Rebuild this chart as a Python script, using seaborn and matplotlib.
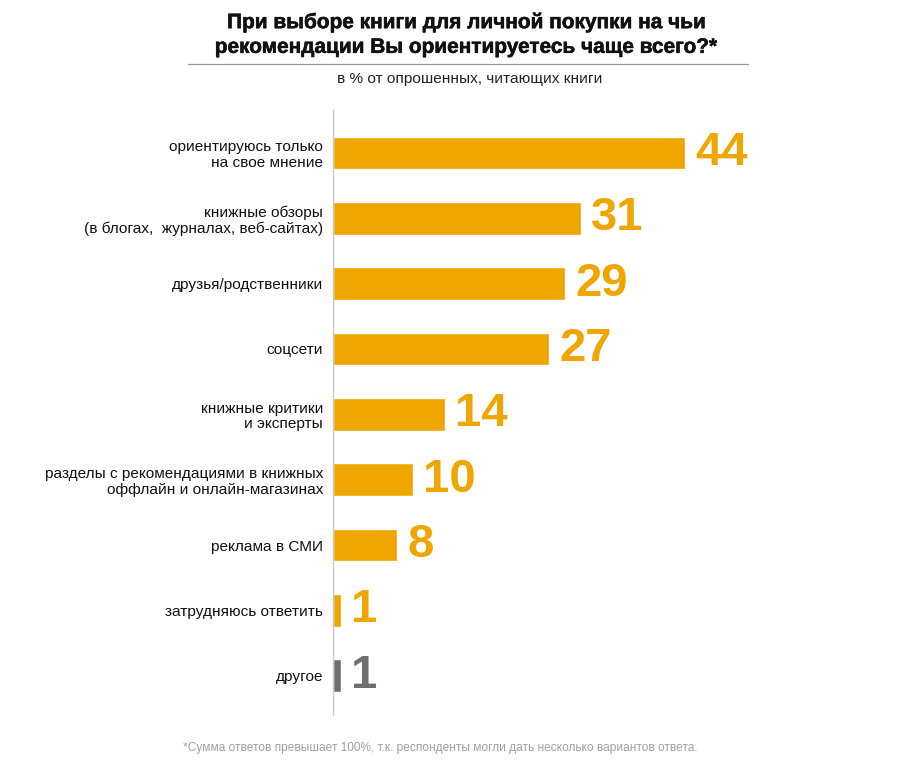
import matplotlib
matplotlib.use("Agg")
import matplotlib.pyplot as plt
import matplotlib.patheffects as pe
import seaborn as sns
import pandas as pd

# --- data ---
categories = [
    "ориентируюсь только\nна свое мнение",
    "книжные обзоры\n(в блогах,  журналах, веб-сайтах)",
    "друзья/родственники",
    "соцсети",
    "книжные критики\nи эксперты",
    "разделы с рекомендациями в книжных\nоффлайн и онлайн-магазинах",
    "реклама в СМИ",
    "затрудняюсь ответить",
    "другое",
]
values = [44, 31, 29, 27, 14, 10, 8, 1, 1]

ORANGE = "#EFA600"
GREY = "#6E6F71"
bar_colors = [ORANGE] * 8 + [GREY]

title = "При выборе книги для личной покупки на чьи\nрекомендации Вы ориентируетесь чаще всего?*"
subtitle = "в % от опрошенных, читающих книги"
footnote = "*Сумма ответов превышает 100%, т.к. респонденты могли дать несколько вариантов ответа."

sns.set_theme(style="white")
plt.rcParams["font.family"] = ["Liberation Sans", "DejaVu Sans"]

df = pd.DataFrame({"cat": categories, "val": values})

fig = plt.figure(figsize=(9.07, 7.73), dpi=100)
ax = fig.add_axes([0.367, 0.075, 0.60, 0.783])

sns.barplot(data=df, x="val", y="cat", hue="cat", palette=bar_colors,
            legend=False, orient="h", width=0.5, saturation=1, ax=ax)

ax.set_xlim(0, 68)
ax.set_ylim(8.6, -0.66)
ax.set_xlabel("")
ax.set_ylabel("")
ax.set_xticks([])
ax.tick_params(axis="y", length=0, pad=7, labelsize=11.1, labelcolor="#111111")
for lbl in ax.get_yticklabels():
    lbl.set_multialignment("right")
    lbl.set_linespacing(1.12)

for s in ["top", "right", "bottom"]:
    ax.spines[s].set_visible(False)
ax.spines["left"].set_color("#C8C8C8")
ax.spines["left"].set_linewidth(1.0)

# value labels
for i, (v, c) in enumerate(zip(values, bar_colors)):
    ax.text(v + 1.3, i, str(v), va="center", ha="left", fontsize=34,
            fontweight="bold", color=c)

# title block
fig.text(0.516, 0.983, title, ha="center", va="top", fontsize=15,
         fontweight="bold", color="#111111", linespacing=1.38,
         path_effects=[pe.withStroke(linewidth=0.4, foreground="#111111")])
fig.add_artist(plt.Line2D([0.207, 0.825], [0.917, 0.917], color="#9A9A9A", lw=0.9))
fig.text(0.518, 0.898, subtitle, ha="center", va="center", fontsize=11.1, color="#222222")

fig.text(0.485, 0.032, footnote, ha="center", va="center", fontsize=8.6, color="#A0A0A0")

fig.savefig("out.png", dpi=100)
